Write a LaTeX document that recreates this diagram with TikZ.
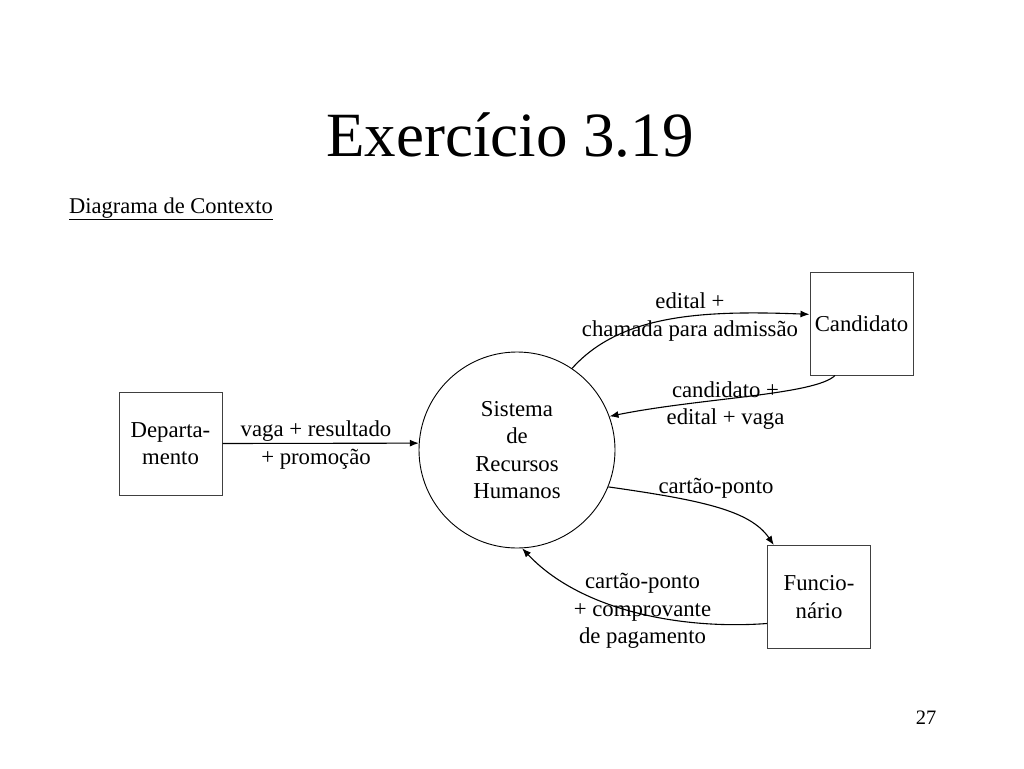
\documentclass[tikz,border=0pt]{standalone}
\usepackage{fontspec}
\setmainfont{Liberation Serif}
\usetikzlibrary{arrows.meta}
\begin{document}
\begin{tikzpicture}[x=1pt,y=-1pt,
  body/.style={font=\fontsize{22.75}{27.5}\selectfont, align=center, inner sep=0pt},
  entity/.style={body, draw=black!75, line width=1pt, minimum width=103pt, minimum height=103pt},
  process/.style={body, draw=black, line width=0.9pt, circle, minimum size=196pt},
  flow/.style={draw=black, line width=1.1pt, -{Latex[length=9pt,width=7pt]}},
  lbl/.style={body}]
\useasboundingbox[fill=white] (0,0) rectangle (1024,768);
\node[font=\fontsize{63}{70}\selectfont, anchor=base, inner sep=0pt] (title) at (510,156) {Exercício 3.19};
\node[font=\fontsize{22.5}{26}\selectfont, anchor=base west, inner sep=0pt] (sub) at (69,213) {\underline{Diagrama de Contexto}};
\node[process] (sys) at (517,450) {Sistema\\de\\Recursos\\Humanos};
\node[entity] (dept) at (170.5,443.5) {Departa-\\mento};
\node[entity] (cand) at (861.5,323.5) {Candidato};
\node[entity] (func) at (819,597) {Funcio-\\nário};
\draw[flow] (dept.east) -- (sys.176);
\draw[flow] (sys.56.5) .. controls (620,315) and (700,310) .. (cand.170.6);
\draw[flow] (cand.243.7) .. controls (815,395) and (700,398) .. (sys.20);
\draw[flow] (sys.338) .. controls (700,500) and (750,510) .. (func.131);
\draw[flow] (func.207.5) .. controls (680,630) and (580,610) .. (sys.273);
\node[lbl] (l1) at (316,445) {vaga + resultado\\+ promoção};
\node[lbl] (l2) at (690,317) {edital +\\chamada para admissão};
\node[lbl] (l3) at (725.5,405.5) {candidato +\\edital + vaga};
\node[lbl] (l4) at (716,488) {cartão-ponto};
\node[lbl] (l5) at (642.5,611) {cartão-ponto\\+ comprovante\\de pagamento};
\node[font=\fontsize{20.5}{24}\selectfont, inner sep=0pt] (pg) at (926,718) {27};
\end{tikzpicture}
\end{document}
